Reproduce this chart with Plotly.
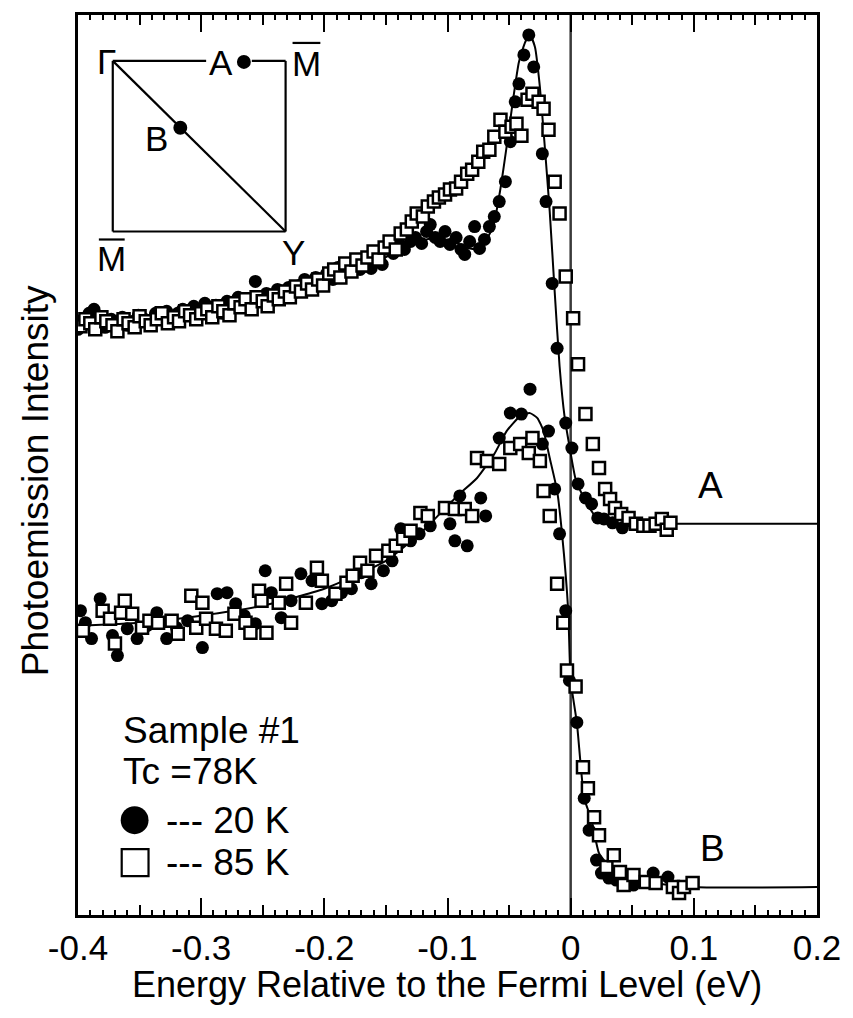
import plotly.graph_objects as go

# ---------------- data (energy in eV, intensity in arbitrary units) ----------------
A20_E = [-0.400,-0.396,-0.391,-0.387,-0.382,-0.378,-0.373,-0.369,-0.364,-0.360,-0.355,-0.351,-0.346,-0.342,
         -0.337,-0.333,-0.328,-0.324,-0.319,-0.315,-0.310,-0.306,-0.301,-0.297,-0.292,-0.288,-0.283,-0.279,
         -0.274,-0.270,-0.265,-0.261,-0.256,-0.252,-0.247,-0.243,-0.238,-0.234,-0.229,-0.225,-0.220,-0.216,
         -0.211,-0.207,-0.202,-0.198,-0.193,-0.189,-0.184,-0.180,-0.175,-0.171,-0.166,-0.162,-0.157,-0.153,
         -0.148,-0.144,-0.139,-0.135,-0.130,-0.126,-0.121,-0.117,-0.114,-0.110,-0.106,-0.102,-0.098,-0.093,
         -0.089,-0.086,-0.082,-0.078,-0.074,-0.070,-0.066,-0.062,-0.058,-0.053,-0.049,-0.045,-0.042,-0.038,
         -0.034,-0.030,-0.023,-0.020,-0.015,-0.011,-0.004,0.001,0.006,0.012,0.017,0.022,0.027,0.034,0.042]
A20_I = [587,597,603,607,593,589,597,593,599,591,595,601,597,593,
         603,599,605,597,603,607,601,610,605,613,607,611,603,615,
         609,619,613,607,635,617,623,615,627,621,629,623,631,637,
         629,639,633,643,637,649,653,645,651,647,655,648,657,652,
         667,663,672,667,675,679,673,685,692,679,675,685,672,679,
         667,662,675,690,668,677,690,700,715,735,775,815,833,862,
         882,850,763,715,633,568,493,468,432,418,412,398,397,393,388]

A85_E = [-0.398,-0.394,-0.390,-0.386,-0.381,-0.377,-0.372,-0.368,-0.363,-0.359,-0.354,-0.350,-0.345,-0.341,
         -0.336,-0.332,-0.327,-0.322,-0.318,-0.313,-0.309,-0.304,-0.300,-0.295,-0.291,-0.286,-0.282,-0.277,
         -0.273,-0.268,-0.264,-0.259,-0.255,-0.250,-0.246,-0.241,-0.237,-0.232,-0.228,-0.223,-0.219,-0.214,
         -0.210,-0.205,-0.201,-0.196,-0.192,-0.187,-0.183,-0.178,-0.174,-0.169,-0.165,-0.160,-0.156,-0.151,
         -0.147,-0.142,-0.138,-0.133,-0.129,-0.125,-0.120,-0.116,-0.111,-0.107,-0.102,-0.098,-0.093,-0.089,
         -0.084,-0.080,-0.075,-0.071,-0.066,-0.062,-0.057,-0.053,-0.048,-0.044,-0.040,-0.035,-0.031,-0.026,
         -0.022,-0.018,-0.013,-0.009,-0.004,0.002,0.006,0.012,0.018,0.023,0.028,0.032,0.036,0.041,0.047,
         0.053,0.059,0.064,0.069,0.074,0.078,0.081]
A85_I = [590,597,593,587,599,595,591,585,597,593,589,600,595,591,
         597,603,593,599,595,605,601,597,603,607,599,610,605,601,
         613,609,617,607,619,615,610,621,617,625,619,630,625,633,
         627,637,631,643,647,639,653,645,657,651,659,665,657,669,
         675,667,683,687,695,703,700,710,715,719,722,727,728,735,
         743,747,755,765,767,780,797,785,790,793,781,817,823,815,
         808,787,735,703,640,598,552,502,472,448,427,417,408,402,398,
         392,390,390,392,397,386,393]

A_FIT_E = [-0.400,-0.350,-0.300,-0.250,-0.200,-0.160,-0.130,-0.110,-0.095,-0.085,-0.074,-0.063,-0.057,
           -0.052,-0.047,-0.042,-0.036,-0.032,-0.029,-0.025,-0.021,-0.017,-0.013,-0.009,-0.005,-0.001,
           0.004,0.010,0.020,0.040,0.076,0.200]
A_FIT_I = [593,597,605,618,633,653,672,679,675,669,667,690,728,
           770,815,855,877,879,870,830,770,705,625,550,500,470,
           437,420,400,390,392,392]

B20_E = [-0.398,-0.394,-0.389,-0.382,-0.372,-0.368,-0.360,-0.352,-0.344,-0.336,-0.328,-0.320,-0.311,-0.299,
         -0.287,-0.279,-0.272,-0.265,-0.256,-0.248,-0.243,-0.235,-0.227,-0.219,-0.210,-0.202,-0.194,-0.186,
         -0.178,-0.170,-0.162,-0.152,-0.145,-0.138,-0.130,-0.123,-0.114,-0.098,-0.094,-0.090,-0.084,-0.073,
         -0.069,-0.058,-0.049,-0.040,-0.033,-0.023,-0.018,-0.013,-0.009,-0.004,-0.001,0.005,0.011,0.015,
         0.021,0.025,0.031,0.037,0.051,0.057,0.067,0.079]
B20_I = [305,293,277,317,280,260,287,277,290,303,277,288,295,268,
         322,323,312,300,292,345,323,298,315,342,335,312,315,323,
         327,343,332,345,355,387,375,382,390,392,375,420,370,418,
         400,478,503,502,527,472,485,427,382,305,235,193,117,85,
         55,42,37,35,30,33,42,38]

B85_E = [-0.396,-0.380,-0.374,-0.370,-0.365,-0.362,-0.356,-0.348,-0.342,-0.335,-0.324,-0.319,-0.308,-0.304,
         -0.299,-0.296,-0.288,-0.280,-0.273,-0.264,-0.260,-0.253,-0.251,-0.247,-0.237,-0.231,-0.227,-0.215,
         -0.206,-0.202,-0.191,-0.182,-0.177,-0.171,-0.165,-0.158,-0.148,-0.142,-0.136,-0.130,-0.122,-0.116,
         -0.102,-0.094,-0.086,-0.080,-0.076,-0.068,-0.058,-0.049,-0.041,-0.034,-0.031,-0.025,-0.022,-0.017,
         -0.011,-0.006,-0.003,0.004,0.010,0.014,0.019,0.023,0.029,0.035,0.040,0.043,0.051,0.061,0.069,
         0.083,0.088,0.092,0.099]
B85_I = [285,305,297,272,303,315,302,288,295,293,295,282,320,288,
         313,297,287,285,302,293,283,325,315,283,313,332,293,313,
         348,335,322,333,340,353,345,360,365,370,377,385,403,400,
         408,407,407,400,458,455,452,468,472,463,478,455,425,400,
         332,293,245,229,148,127,98,80,48,60,43,30,40,33,32,
         28,22,28,32]

B_FIT_E = [-0.400,-0.350,-0.300,-0.250,-0.200,-0.150,-0.120,-0.092,-0.076,-0.062,-0.052,-0.041,-0.033,
           -0.027,-0.022,-0.017,-0.011,-0.007,-0.002,0.000,0.005,0.011,0.017,0.023,0.032,0.053,0.099,0.200]
B_FIT_I = [290,293,300,310,327,355,385,420,438,462,485,500,503,
           498,485,458,425,382,305,235,193,117,95,62,48,35,28,28]

X_TICKS = [-0.4, -0.3, -0.2, -0.1, 0.0, 0.1, 0.2]
X_TICK_TEXT = ["-0.4", "-0.3", "-0.2", "-0.1", "0", "0.1", "0.2"]
X_MID_TICKS = [-0.35, -0.25, -0.15, -0.05, 0.05, 0.15]
X_RANGE = [-0.4, 0.2]
Y_RANGE = [0, 902]

# ---------------- figure ----------------
W, H = 853, 1018
ML, MR, MT, MB = 78, 31, 13, 103
FONT = "Liberation Sans, Arial, Helvetica, sans-serif"


def px(x):
    return (x - ML) / (W - ML - MR)


def py(y):
    return (H - MB - y) / (H - MT - MB)


fig = go.Figure()

circ = dict(symbol="circle", size=13, color="black", line=dict(width=0))
sqm = dict(symbol="square", size=12, color="white", line=dict(width=2.5, color="black"))
fitline = dict(color="black", width=2, shape="spline", smoothing=0.5)

fig.add_trace(go.Scatter(x=A_FIT_E, y=A_FIT_I, mode="lines", line=fitline, showlegend=False))
fig.add_trace(go.Scatter(x=B_FIT_E, y=B_FIT_I, mode="lines", line=fitline, showlegend=False))
fig.add_trace(go.Scatter(x=A20_E, y=A20_I, mode="markers", marker=circ, showlegend=False))
fig.add_trace(go.Scatter(x=B20_E, y=B20_I, mode="markers", marker=circ, showlegend=False))
fig.add_trace(go.Scatter(x=A85_E, y=A85_I, mode="markers", marker=sqm, showlegend=False))
fig.add_trace(go.Scatter(x=B85_E, y=B85_I, mode="markers", marker=sqm, showlegend=False))
# invisible trace to anchor the secondary (mid-tick) axis
fig.add_trace(go.Scatter(x=[None], y=[None], xaxis="x2", yaxis="y", showlegend=False,
                         hoverinfo="skip"))

shapes = []
# Fermi level line
shapes.append(dict(type="line", xref="x", yref="paper", x0=0, x1=0, y0=0, y1=1,
                   line=dict(color="#3a3a3a", width=2.5), layer="below"))

# inset Brillouin zone
lw = dict(color="black", width=2.2)
L, R, T, B = 113, 287, 59, 230
for (x0, y0, x1, y1) in [(L, T, 207, T), (253, T, R, T), (L, T, L, B), (L, B, R, B), (R, T, R, B), (L, T, R, B)]:
    shapes.append(dict(type="line", xref="paper", yref="paper",
                       x0=px(x0), y0=py(y0), x1=px(x1), y1=py(y1), line=lw))
for (cx, cy) in [(245, 60), (181, 126)]:
    r = 7
    shapes.append(dict(type="circle", xref="paper", yref="paper",
                       x0=px(cx - r), x1=px(cx + r), y0=py(cy + r), y1=py(cy - r),
                       fillcolor="black", line=dict(width=0)))
# overlines for M-bar
for (x0, x1, yy) in [(294, 322, 41), (99, 125, 238)]:
    shapes.append(dict(type="line", xref="paper", yref="paper",
                       x0=px(x0), x1=px(x1), y0=py(yy), y1=py(yy), line=dict(color="black", width=2.2)))

# legend symbols
shapes.append(dict(type="circle", xref="paper", yref="paper",
                   x0=px(121), x1=px(149), y0=py(834), y1=py(806), fillcolor="black", line=dict(width=0)))
shapes.append(dict(type="rect", xref="paper", yref="paper",
                   x0=px(122), x1=px(149), y0=py(876), y1=py(849), fillcolor="white",
                   line=dict(color="black", width=2.2)))

ann = []


def text(t, x, y, size=37, xanchor="center", angle=0):
    ann.append(dict(text=t, x=px(x), y=py(y), xref="paper", yref="paper", showarrow=False,
                    xanchor=xanchor, yanchor="middle", textangle=angle,
                    font=dict(family=FONT, size=size, color="black")))


# inset labels
text("Γ", 107, 60, size=35)
text("A", 222, 61, size=35)
text("M", 308, 62, size=35)
text("B", 157, 137, size=35)
text("M", 112, 257, size=35)
text("Y", 295, 251, size=35)
# curve labels
text("A", 715, 485)
text("B", 717, 848)
# legend text
text("Sample #1", 121, 730, xanchor="left")
text("Tc =78K", 121, 771, xanchor="left")
text("--- 20 K", 165, 820, xanchor="left")
text("--- 85 K", 165, 862, xanchor="left")
# axis titles
text("Energy Relative to the Fermi Level (eV)", 449, 985, size=36)
text("Photoemission Intensity", 36, 480, angle=-90)

fig.update_layout(
    width=W, height=H,
    margin=dict(l=ML, r=MR, t=MT, b=MB),
    paper_bgcolor="white", plot_bgcolor="white",
    font=dict(family=FONT, size=35, color="black"),
    shapes=shapes, annotations=ann,
    xaxis=dict(range=X_RANGE, tickvals=X_TICKS, ticktext=X_TICK_TEXT,
               ticks="inside", ticklen=17, tickwidth=2, tickcolor="black",
               showline=True, linewidth=2.5, linecolor="black", mirror="allticks",
               showgrid=False, zeroline=False, ticklabelstandoff=0,
               tickfont=dict(family=FONT, size=35, color="black"),
               minor=dict(dtick=0.01, tick0=0, ticks="inside", ticklen=5, tickwidth=1.5,
                          tickcolor="black", showgrid=False)),
    xaxis2=dict(range=X_RANGE, overlaying="x", anchor="y", side="bottom", tickvals=X_MID_TICKS,
                ticks="inside", ticklen=10, tickwidth=2, tickcolor="black",
                showticklabels=False, showline=False, mirror="allticks",
                showgrid=False, zeroline=False),
    yaxis=dict(range=Y_RANGE, showticklabels=False, ticks="", showline=True, linewidth=2.5,
               linecolor="black", mirror=True, showgrid=False, zeroline=False),
)

fig.write_html("out.html")
